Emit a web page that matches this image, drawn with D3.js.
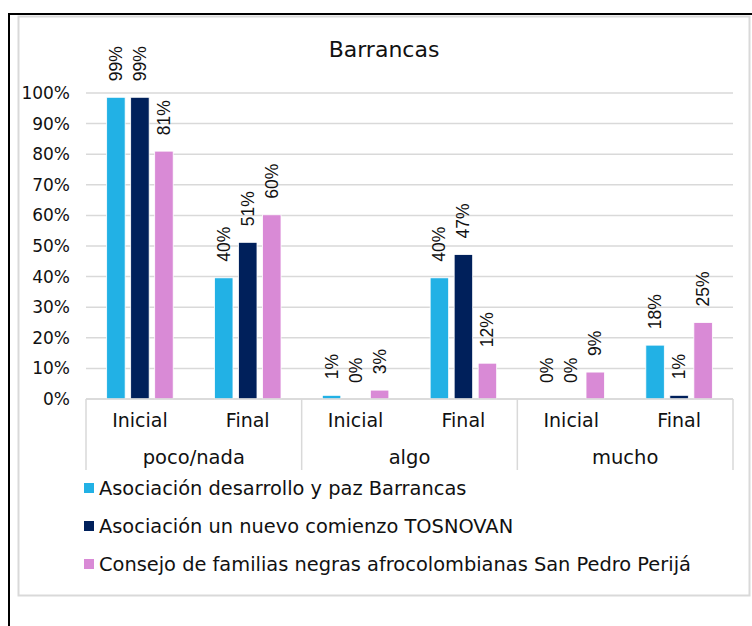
<!DOCTYPE html>
<html>
<head>
<meta charset="utf-8">
<script src="https://cdn.jsdelivr.net/npm/d3@7"></script>
<style>
  body { margin: 0; background: #fff; }
  text { font-family: "DejaVu Sans", sans-serif; fill: #111; }
  .lbl { font-family: "Liberation Sans", Arial, sans-serif; }
</style>
</head>
<body>
<div id="container"></div>
<script>
// data
const groups = ["poco/nada", "algo", "mucho"];
const phases = ["Inicial", "Final"];
const seriesNames = [
  "Asociación desarrollo y paz Barrancas",
  "Asociación un nuevo comienzo TOSNOVAN",
  "Consejo de familias negras afrocolombianas San Pedro Perijá"
];
const seriesColors = ["#22b1e5", "#00205b", "#d98ad6"];
// one array per series, order: poco Inicial, poco Final, algo Inicial, algo Final, mucho Inicial, mucho Final
const barrancas = [0.986, 0.396, 0.012, 0.396, 0.0, 0.176];
const tosnovan = [0.986, 0.512, 0.0, 0.472, 0.0, 0.012];
const sanPedro = [0.81, 0.602, 0.029, 0.117, 0.088, 0.25];
const yTicks = [0, 0.1, 0.2, 0.3, 0.4, 0.5, 0.6, 0.7, 0.8, 0.9, 1.0];

const W = 752, H = 626;
const margin = {top: 93, left: 86, right: 19, bottom: 227};
const width = W - margin.left - margin.right,
      height = H - margin.top - margin.bottom;

const svg = d3.select("#container").append("svg")
  .attr("width", W).attr("height", H);

// frames
svg.append("rect").attr("x", 18.5).attr("y", 16.5).attr("width", 731).attr("height", 579)
  .attr("fill", "none").attr("stroke", "#d9d9d9").attr("stroke-width", 2);
svg.append("line").attr("x1", 9).attr("x2", 9).attr("y1", 14).attr("y2", H)
  .attr("stroke", "#000").attr("stroke-width", 2);
svg.append("line").attr("x1", 8).attr("x2", W).attr("y1", 14).attr("y2", 14)
  .attr("stroke", "#000").attr("stroke-width", 2);

const g = svg.append("g").attr("transform", `translate(${margin.left},${margin.top})`);

const cats = [];
groups.forEach(gr => phases.forEach(p => cats.push(gr + "|" + p)));

const x0 = d3.scaleBand().domain(cats).range([0, width]);
const x1 = d3.scaleBand().domain(d3.range(seriesNames.length))
  .range([0, x0.bandwidth()]).paddingInner(0.23).paddingOuter(0.86);
const y = d3.scaleLinear().domain([0, 1]).range([height, 0]);

// grid
g.selectAll(".grid").data(yTicks).enter().append("line")
  .attr("x1", 0).attr("x2", width)
  .attr("y1", d => y(d)).attr("y2", d => y(d))
  .attr("stroke", "#d9d9d9").attr("stroke-width", 1.5);

// y axis labels
const yAxis = g.append("g").call(d3.axisLeft(y).tickValues(yTicks).tickFormat(d3.format(".0%")).tickSize(0).tickPadding(16));
yAxis.select(".domain").remove();
yAxis.selectAll("text").style("font-size", "17px").attr("fill", "#111").style("font-family", "DejaVu Sans");

// bars
const series = [barrancas, tosnovan, sanPedro];
const flat = [];
series.forEach((vals, s) => vals.forEach((v, i) => flat.push({s, cat: cats[i], v})));

g.selectAll(".bar").data(flat).enter().append("rect")
  .attr("x", d => x0(d.cat) + x1(d.s))
  .attr("y", d => y(d.v))
  .attr("width", x1.bandwidth())
  .attr("height", d => height - y(d.v))
  .attr("fill", d => seriesColors[d.s])
  .attr("stroke", "#fff").attr("stroke-width", 0.8);

// labels
g.selectAll(".lbl").data(flat).enter().append("text")
  .attr("class", "lbl")
  .attr("transform", d => `translate(${x0(d.cat) + x1(d.s) + x1.bandwidth() / 2 + 6},${y(d.v) - 16}) rotate(-90)`)
  .style("font-size", "17.5px")
  .text(d => d3.format(".0%")(d.v));

// x axis
g.append("line").attr("x1", 0).attr("x2", width).attr("y1", height).attr("y2", height)
  .attr("stroke", "#d9d9d9").attr("stroke-width", 1.5);
const gx = d3.scaleBand().domain(groups).range([0, width]);
g.selectAll(".sep").data(d3.range(groups.length + 1)).enter().append("line")
  .attr("x1", i => i * gx.bandwidth()).attr("x2", i => i * gx.bandwidth())
  .attr("y1", height).attr("y2", height + 71)
  .attr("stroke", "#d9d9d9").attr("stroke-width", 1.5);

g.selectAll(".phase").data(cats).enter().append("text")
  .attr("x", d => x0(d) + x0.bandwidth() / 2)
  .attr("y", height + 28)
  .attr("text-anchor", "middle")
  .style("font-size", "19px")
  .text(d => d.split("|")[1]);

g.selectAll(".grp").data(groups).enter().append("text")
  .attr("x", d => gx(d) + gx.bandwidth() / 2)
  .attr("y", height + 65)
  .attr("text-anchor", "middle")
  .style("font-size", "19.5px")
  .text(d => d);

// title
svg.append("text").attr("x", 384).attr("y", 57).attr("text-anchor", "middle")
  .style("font-size", "22px").text("Barrancas");

// legend
const legend = svg.selectAll(".legend").data(seriesNames).enter().append("g")
  .attr("transform", (d, i) => `translate(84,${488 + i * 38})`);
legend.append("rect").attr("x", 0).attr("y", -5).attr("width", 10).attr("height", 10)
  .attr("fill", (d, i) => seriesColors[i]);
legend.append("text").attr("x", 15).attr("y", 0).attr("dy", "0.35em")
  .style("font-size", "19.4px").text(d => d);
</script>
</body>
</html>
